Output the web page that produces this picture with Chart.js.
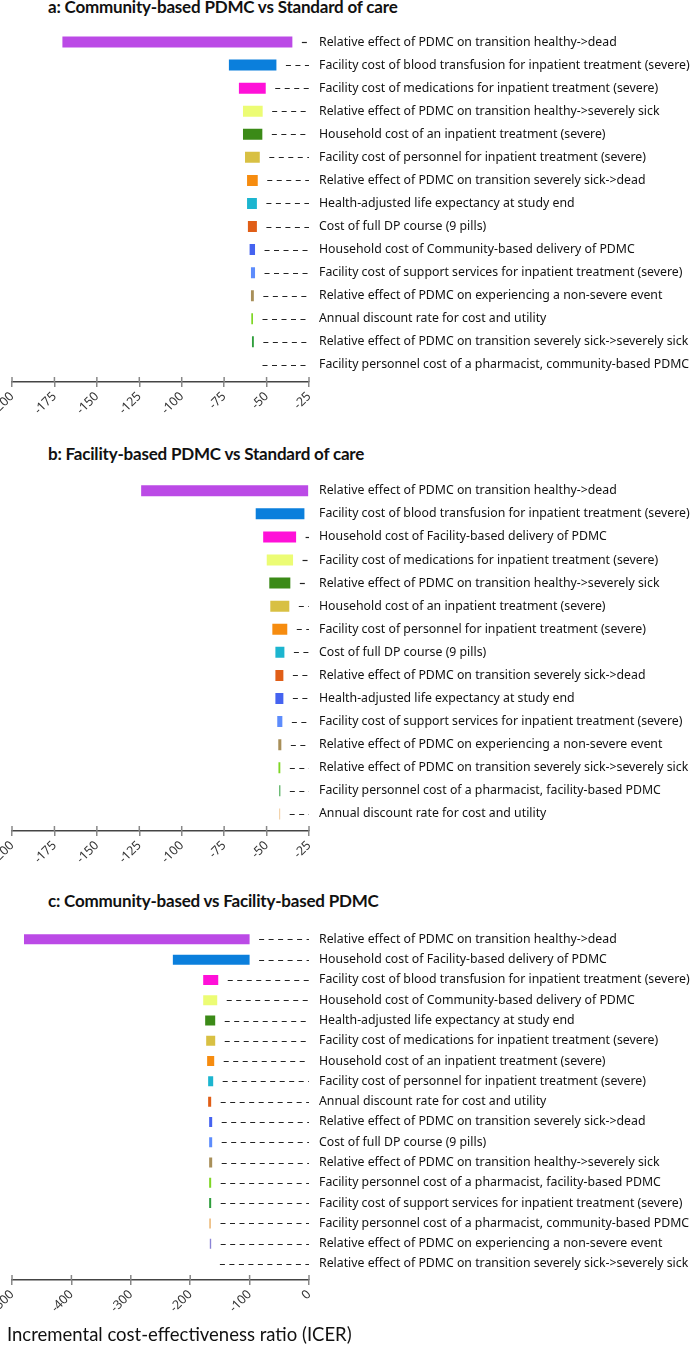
<!DOCTYPE html>
<html>
<head>
<meta charset="utf-8">
<script src="https://cdn.jsdelivr.net/npm/chart.js@4.4.1/dist/chart.umd.min.js"></script>
<style>
  body { margin: 0; background: #fff; width: 694px; height: 1353px; position: relative; overflow: hidden; }
  canvas { position: absolute; left: 0; }
  .title { position: absolute; left: 48px; font: bold 17px Lato, sans-serif; letter-spacing: -0.2px; line-height: 18px; color: #111; white-space: nowrap; }
  .caption { position: absolute; left: 7px; top: 1325px; font: 18.5px Lato, sans-serif; line-height: 19px; color: #111; white-space: nowrap; }
</style>
</head>
<body>
<div class="title" style="top:-2px">a: Community-based PDMC vs Standard of care</div>
<div class="title" style="top:445px">b: Facility-based PDMC vs Standard of care</div>
<div class="title" style="top:892px">c: Community-based vs Facility-based PDMC</div>
<canvas id="chartA" width="694" height="432" style="top:0px"></canvas>
<canvas id="chartB" width="694" height="441" style="top:440px"></canvas>
<canvas id="chartC" width="694" height="440" style="top:890px"></canvas>
<div class="caption">Incremental cost-effectiveness ratio (ICER)</div>

<script>
// panel a: Community-based PDMC vs Standard of care
const labelsA = [
    "Relative effect of PDMC on transition healthy->dead",
    "Facility cost of blood transfusion for inpatient treatment (severe)",
    "Facility cost of medications for inpatient treatment (severe)",
    "Relative effect of PDMC on transition healthy->severely sick",
    "Household cost of an inpatient treatment (severe)",
    "Facility cost of personnel for inpatient treatment (severe)",
    "Relative effect of PDMC on transition severely sick->dead",
    "Health-adjusted life expectancy at study end",
    "Cost of full DP course (9 pills)",
    "Household cost of Community-based delivery of PDMC",
    "Facility cost of support services for inpatient treatment (severe)",
    "Relative effect of PDMC on experiencing a non-severe event",
    "Annual discount rate for cost and utility",
    "Relative effect of PDMC on transition severely sick->severely sick",
    "Facility personnel cost of a pharmacist, community-based PDMC"
];
const lowA  = [-170.3, -72.2, -66.3, -63.9, -63.9, -62.7, -61.5, -61.5, -61.0, -60.0, -59.2, -59.2, -59.0, -58.6, -58.0];
const highA = [-34.8, -44.2, -50.5, -52.3, -52.5, -54.0, -55.2, -55.7, -55.7, -56.8, -56.8, -57.5, -58.0, -57.5, -58.0];

// panel b: Facility-based PDMC vs Standard of care
const labelsB = [
    "Relative effect of PDMC on transition healthy->dead",
    "Facility cost of blood transfusion for inpatient treatment (severe)",
    "Household cost of Facility-based delivery of PDMC",
    "Facility cost of medications for inpatient treatment (severe)",
    "Relative effect of PDMC on transition healthy->severely sick",
    "Household cost of an inpatient treatment (severe)",
    "Facility cost of personnel for inpatient treatment (severe)",
    "Cost of full DP course (9 pills)",
    "Relative effect of PDMC on transition severely sick->dead",
    "Health-adjusted life expectancy at study end",
    "Facility cost of support services for inpatient treatment (severe)",
    "Relative effect of PDMC on experiencing a non-severe event",
    "Relative effect of PDMC on transition severely sick->severely sick",
    "Facility personnel cost of a pharmacist, facility-based PDMC",
    "Annual discount rate for cost and utility"
];
const lowB  = [-123.9, -56.4, -52.0, -49.9, -48.4, -47.8, -46.6, -44.8, -44.8, -44.8, -43.7, -43.1, -43.0, -42.5, -42.5];
const highB = [-25.5, -27.7, -32.6, -34.4, -36.0, -36.6, -37.8, -39.5, -40.1, -40.1, -40.7, -41.3, -41.9, -41.9, -42.0];

// panel c: Community-based vs Facility-based PDMC
const labelsC = [
    "Relative effect of PDMC on transition healthy->dead",
    "Household cost of Facility-based delivery of PDMC",
    "Facility cost of blood transfusion for inpatient treatment (severe)",
    "Household cost of Community-based delivery of PDMC",
    "Health-adjusted life expectancy at study end",
    "Facility cost of medications for inpatient treatment (severe)",
    "Household cost of an inpatient treatment (severe)",
    "Facility cost of personnel for inpatient treatment (severe)",
    "Annual discount rate for cost and utility",
    "Relative effect of PDMC on transition severely sick->dead",
    "Cost of full DP course (9 pills)",
    "Relative effect of PDMC on transition healthy->severely sick",
    "Facility personnel cost of a pharmacist, facility-based PDMC",
    "Facility cost of support services for inpatient treatment (severe)",
    "Facility personnel cost of a pharmacist, community-based PDMC",
    "Relative effect of PDMC on experiencing a non-severe event",
    "Relative effect of PDMC on transition severely sick->severely sick"
];
const lowC  = [-479.8, -229.2, -178.1, -178.1, -174.8, -173.1, -171.5, -169.8, -169.8, -168.1, -168.1, -168.1, -168.1, -168.1, -168.1, -167.0, -166.0];
const highC = [-100.0, -100.0, -152.8, -154.5, -157.9, -157.9, -159.6, -161.3, -164.7, -163.0, -163.0, -163.0, -164.7, -164.7, -165.0, -164.7, -166.0];

const ticksAB = [-200, -175, -150, -125, -100, -75, -50, -25];
const ticksC  = [-500, -400, -300, -200, -100, 0];

const barColors = ['#bb4ae6', '#0b7fdc', '#ff10d8', '#ecfc74', '#3b8a17', '#d8c043', '#f68c0f', '#1cb5cf',
                   '#e05e17', '#4563f0', '#5d8cfc', '#a88f59', '#7ed624', '#2f9e3c', '#eec28a', '#8a83d6', '#888888'];

// dashed leader from the end of each bar to the label, plus tick marks above the axis
const leaderLines = {
    id: 'leaderLines',
    afterDatasetsDraw(chart) {
        const { ctx, chartArea, scales: { x, y } } = chart;
        ctx.save();
        ctx.strokeStyle = '#222';
        ctx.lineWidth = 1.2;
        ctx.setLineDash([5, 4.5]);
        chart.data.datasets[0].data.forEach(d => {
            const start = x.getPixelForValue(d.x[1]) + 9.5;
            if (start >= chartArea.right - 1) return;
            const py = Math.round(y.getPixelForValue(d.y)) + 0.5;
            ctx.beginPath();
            ctx.moveTo(start, py);
            ctx.lineTo(chartArea.right, py);
            ctx.stroke();
        });
        ctx.setLineDash([]);
        ctx.strokeStyle = '#888';
        ctx.lineWidth = 1.5;
        x.ticks.forEach(t => {
            const px = x.getPixelForValue(t.value);
            ctx.beginPath();
            ctx.moveTo(px, chartArea.bottom - 5);
            ctx.lineTo(px, chartArea.bottom);
            ctx.stroke();
        });
        ctx.restore();
    }
};

function makePanel(id, labels, lows, highs, xTicks, topPad, yMax, thickness) {
    const ctx = document.getElementById(id).getContext('2d');
    return new Chart(ctx, {
        type: 'bar',
        data: {
            datasets: [{
                data: labels.map((_, i) => ({ x: [lows[i], highs[i]], y: i })),
                backgroundColor: barColors.slice(0, labels.length),
                borderWidth: 0,
                inflateAmount: 0,
                barThickness: thickness,
                borderSkipped: false
            }]
        },
        options: {
            indexAxis: 'y',
            responsive: false,
            animation: false,
            layout: { padding: { left: 12, top: topPad, right: 0, bottom: 0 } },
            plugins: { legend: { display: false }, tooltip: { enabled: false } },
            scales: {
                x: {
                    type: 'linear',
                    min: xTicks[0],
                    max: xTicks[xTicks.length - 1],
                    ticks: {
                        stepSize: xTicks[1] - xTicks[0],
                        minRotation: 45, maxRotation: 45,
                        autoSkip: false,
                        padding: 2,
                        color: '#333',
                        font: { family: 'Noto Sans', size: 12.5 }
                    },
                    grid: { drawOnChartArea: false, drawTicks: true, tickLength: 5, color: '#888', lineWidth: 1.5 },
                    border: { display: true, color: '#444', width: 1.5 },
                    afterFit: s => { s.height = 50; s.paddingLeft = 0; s.paddingRight = 0; }
                },
                y: {
                    // numeric row index so the last row sits a little above the axis, as in the original
                    type: 'linear',
                    position: 'right',
                    reverse: true,
                    offset: false,
                    bounds: 'data',
                    min: -0.5,
                    max: yMax,
                    afterBuildTicks: s => { s.ticks = labels.map((_, i) => ({ value: i })); },
                    ticks: {
                        autoSkip: false,
                        padding: 10,
                        color: '#111',
                        font: { family: 'Noto Sans', size: 12.3 },
                        callback: v => labels[v]
                    },
                    grid: { display: false, drawTicks: false, offset: false },
                    border: { display: false },
                    afterFit: s => { s.width = 385; s.paddingTop = 0; s.paddingBottom = 0; }
                }
            }
        },
        plugins: [leaderLines]
    });
}

makePanel('chartA', labelsA, lowA, highA, ticksAB, 30.5, 14.74, 11);
makePanel('chartB', labelsB, lowB, highB, ticksAB, 39.2, 14.74, 11);
makePanel('chartC', labelsC, lowC, highC, ticksC, 39.2, 16.79, 10);
</script>
</body>
</html>
